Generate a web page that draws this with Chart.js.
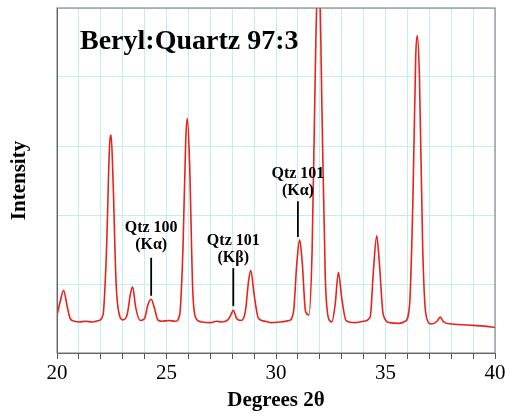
<!DOCTYPE html>
<html>
<head>
<meta charset="utf-8">
<script src="https://cdn.jsdelivr.net/npm/chart.js@4"></script>
<style>
  body { margin: 0; background: #fff; }
  #wrap { width: 513px; height: 416px; }
</style>
</head>
<body>
<div id="wrap"><canvas id="chartXrd"></canvas></div>
<script>
// Dados (2θ, intensidade relativa)
const angulos = [20.0,20.15,20.3,20.45,20.6,20.8,21.0,21.3,21.6,21.9,22.1,22.25,22.4,22.47,22.55,22.7,22.85,23.0,23.2,23.35,23.45,23.6,23.8,24.0,24.15,24.3,24.45,24.6,24.8,25.1,25.4,25.6,25.75,25.88,25.95,26.05,26.2,26.35,26.6,27.0,27.3,27.5,27.8,27.95,28.05,28.2,28.4,28.6,28.75,28.85,29.0,29.2,29.5,29.8,30.2,30.6,30.8,30.95,31.08,31.2,31.35,31.5,31.65,31.8,31.9,32.0,32.1,32.25,32.4,32.55,32.7,32.85,33.0,33.2,33.6,34.0,34.3,34.45,34.6,34.72,34.9,35.2,35.6,35.9,36.1,36.25,36.38,36.45,36.55,36.7,36.85,37.1,37.35,37.5,37.65,38.0,38.5,39.0,39.5,40.0];
const intensidades = [0.55,0.75,0.91,0.7,0.5,0.46,0.45,0.46,0.45,0.47,0.55,1.4,3.0,3.16,2.6,1.0,0.55,0.48,0.55,0.85,0.96,0.65,0.47,0.5,0.7,0.78,0.65,0.48,0.46,0.47,0.46,0.55,1.5,3.1,3.4,2.8,0.9,0.5,0.45,0.44,0.46,0.45,0.48,0.56,0.62,0.5,0.47,0.6,1.05,1.2,0.85,0.5,0.46,0.44,0.45,0.47,0.6,1.3,1.64,1.3,0.6,0.55,1.5,4.2,5.4,5.2,3.5,1.1,0.5,0.45,0.7,1.17,0.8,0.47,0.44,0.46,0.52,1.2,1.7,1.3,0.55,0.44,0.43,0.46,0.7,2.2,4.3,4.6,4.0,1.5,0.55,0.42,0.46,0.52,0.45,0.42,0.41,0.40,0.39,0.37];
const ticksX = [20, 25, 30, 35, 40];

// Anotações dos picos de quartzo: [linha1, linha2, x, yTexto, yLinhaTopo, yLinhaBase]
const rotulos = [
  ["Qtz 100", "(K\u03b1)", 24.3, 1.81, 1.38, 0.83],
  ["Qtz 101", "(K\u03b2)", 28.05, 1.62, 1.23, 0.68],
  ["Qtz 101", "(K\u03b1)", 31.0, 2.6, 2.2, 1.68]
];

const serif = "'Liberation Serif', 'DejaVu Serif', serif";

const anotacoes = {
  id: "anotacoes",
  afterDraw(chart) {
    const c = chart.ctx, sx = chart.scales.x, sy = chart.scales.y, a = chart.chartArea;
    c.save();
    c.fillStyle = "#000";
    c.textAlign = "left";
    c.textBaseline = "middle";
    c.font = "bold 28px " + serif;
    c.fillText("Beryl:Quartz 97:3", 80, 42);

    c.font = "bold 16px " + serif;
    c.textAlign = "center";
    rotulos.forEach(r => {
      const px = sx.getPixelForValue(r[2]);
      const py = sy.getPixelForValue(r[3]);
      c.fillText(r[0], px, py);
      c.fillText(r[1], px, py + 17);
      c.beginPath();
      c.lineWidth = 1.8;
      c.strokeStyle = "#000";
      c.moveTo(px, sy.getPixelForValue(r[4]));
      c.lineTo(px, sy.getPixelForValue(r[5]));
      c.stroke();
    });

    c.font = "bold 21px " + serif;
    c.fillText("Degrees 2\u03b8", (a.left + a.right) / 2, 401);
    c.translate(20, (a.top + a.bottom) / 2);
    c.rotate(-Math.PI / 2);
    c.fillText("Intensity", 0, 0);

    c.restore();
    c.save();
    c.strokeStyle = "#777";
    c.lineWidth = 1;
    c.strokeRect(a.left, a.top, a.right - a.left, a.bottom - a.top);
    c.restore();
  }
};

new Chart(document.getElementById("chartXrd"), {
  type: "line",
  data: {
    datasets: [{
      data: angulos.map((x, i) => ({ x: x, y: intensidades[i] })),
      borderColor: "#e8231c",
      borderWidth: 1.6,
      pointRadius: 0,
      cubicInterpolationMode: "monotone",
      fill: false
    }]
  },
  options: {
    responsive: true,
    maintainAspectRatio: false,
    animation: false,
    layout: { padding: { top: 8, right: 18, left: 0, bottom: 0 } },
    plugins: { legend: { display: false }, tooltip: { enabled: false } },
    scales: {
      x: {
        type: "linear",
        min: 20, max: 40,
        afterFit(s) { s.height = 63; },
        afterBuildTicks(s) {
          const t = [];
          for (let v = 20; v <= 40; v++) t.push({ value: v });
          s.ticks = t;
        },
        grid: { color: "#c2eef5", lineWidth: 1, tickLength: 6, tickColor: "#555" },
        border: { color: "#555" },
        ticks: {
          autoSkip: false,
          maxRotation: 0,
          color: "#000",
          font: { family: serif, size: 21 },
          padding: 2,
          callback: v => ticksX.includes(v) ? String(v) : ""
        }
      },
      y: {
        min: 0, max: 5,
        afterFit(s) { s.width = 57; },
        grid: { color: "#c2eef5", lineWidth: 1, drawTicks: false },
        border: { color: "#555" },
        ticks: { stepSize: 1, display: false }
      }
    }
  },
  plugins: [anotacoes]
});
</script>
</body>
</html>
